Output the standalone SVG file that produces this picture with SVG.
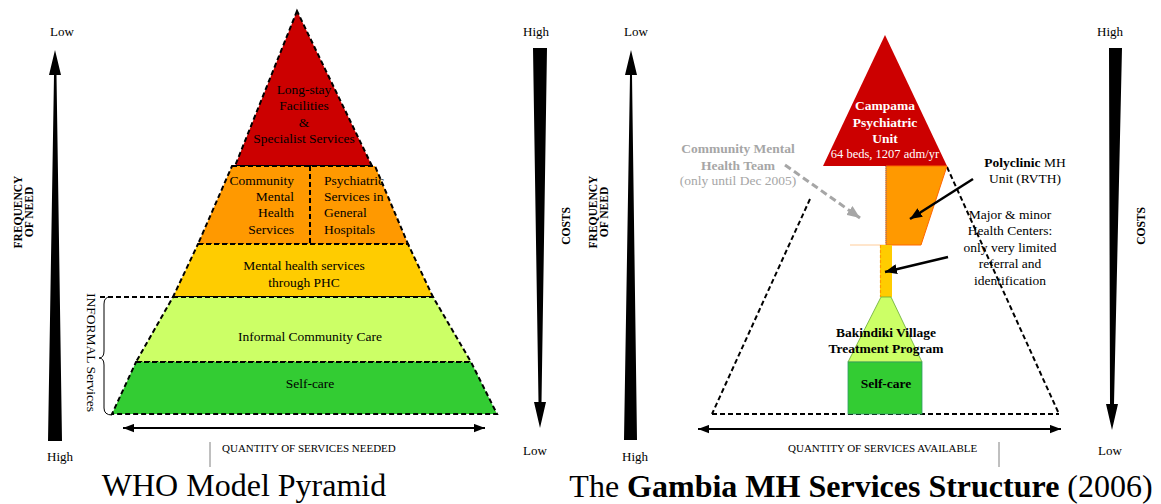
<svg xmlns="http://www.w3.org/2000/svg" width="1161" height="504" viewBox="0 0 1161 504">
<style>
text{font-family:"Liberation Serif","Times New Roman",serif;fill:#000}
.t{font-size:13.5px}
.c{text-anchor:middle}
.b{font-weight:bold}
.ax{font-size:13px}
.lab{font-size:11.5px;font-weight:bold}
.dash{stroke:#000;stroke-width:2;stroke-dasharray:5,3}
.nf{fill:none}
.gr{fill:#A6A6A6}
.w{fill:#fff}
</style>
<defs>
<marker id="ah" viewBox="0 0 12 10" refX="12" refY="5" markerWidth="12" markerHeight="10" markerUnits="userSpaceOnUse" orient="auto-start-reverse"><path d="M0,0 L12,5 L0,10 z" fill="#000"/></marker>
<marker id="ahs" viewBox="0 0 12 9" refX="12" refY="4.5" markerWidth="11" markerHeight="9" markerUnits="userSpaceOnUse" orient="auto-start-reverse"><path d="M0,0 L12,4.5 L0,9 z" fill="#000"/></marker>
<marker id="ahg" viewBox="0 0 12 10" refX="12" refY="5" markerWidth="13" markerHeight="11" markerUnits="userSpaceOnUse" orient="auto"><path d="M0,0 L12,5 L0,10 z" fill="#A6A6A6"/></marker>
</defs>

<!-- LEFT PANEL -->
<g id="who-longstay">
<polygon points="297,11 235,166 372,166" fill="#CC0000" class="dash"/>
<text class="t c" x="304" y="94">Long-stay</text>
<text class="t c" x="304" y="110">Facilities</text>
<text class="t c" x="304" y="127">&amp;</text>
<text class="t c" x="304" y="143">Specialist Services</text>
</g>
<g id="who-community">
<polygon points="232,166 375,166 408,244 198,244" fill="#FF9900" class="dash"/>
<line x1="310" y1="166" x2="310" y2="244" class="dash"/>
<text class="t" text-anchor="end" x="294" y="185">Community</text>
<text class="t" text-anchor="end" x="294" y="201">Mental</text>
<text class="t" text-anchor="end" x="294" y="217">Health</text>
<text class="t" text-anchor="end" x="294" y="234">Services</text>
<text class="t" x="324" y="185">Psychiatric</text>
<text class="t" x="324" y="201">Services in</text>
<text class="t" x="324" y="217">General</text>
<text class="t" x="324" y="234">Hospitals</text>
</g>
<g id="who-phc">
<polygon points="198,244 408,244 433,297 173,297" fill="#FFCC00" class="dash"/>
<text class="t c" x="304" y="270">Mental health services</text>
<text class="t c" x="304" y="287">through PHC</text>
</g>
<g id="who-informal">
<polygon points="173,297 433,297 471,362 136,362" fill="#CCFF66" class="dash"/>
<text class="t c" x="310" y="341">Informal Community Care</text>
</g>
<g id="who-selfcare">
<polygon points="136,362 471,362 497,414 112,414" fill="#33CC33" class="dash"/>
<text class="t c" x="310" y="388">Self-care</text>
</g>
<g id="who-informal-brace">
<line x1="100" y1="297" x2="173" y2="297" class="dash"/>
<path d="M110,297 Q104,297 104,304 L104,351 Q104,358 99,358 Q104,358 104,365 L104,408 Q104,415 112,415" fill="none" stroke="#000" stroke-width="1"/>
<text class="t" transform="translate(87,293) rotate(90)" font-size="14">INFORMAL Services</text>
</g>
<g id="who-freq-axis">
<polygon points="48,441 62,441 56.5,75 61,75 55,50 49,75 54,75" fill="#000"/>
<text class="ax c" x="62" y="36">Low</text>
<text class="ax c" x="60" y="461">High</text>
<text class="lab c" transform="translate(22,212) rotate(-90)">FREQUENCY</text>
<text class="lab c" transform="translate(33,212) rotate(-90)">OF NEED</text>
</g>
<g id="who-cost-axis">
<polygon points="533,48 547,48 541.5,402 546,402 540,428 534,402 538.5,402" fill="#000"/>
<text class="ax c" x="536" y="36">High</text>
<text class="ax c" x="535" y="455">Low</text>
<text class="lab c" transform="translate(570,226) rotate(-90)">COSTS</text>
</g>
<g id="who-quantity-axis">
<line x1="123" y1="428" x2="485" y2="428" stroke="#000" stroke-width="2" marker-start="url(#ahs)" marker-end="url(#ahs)"/>
<line x1="210" y1="442" x2="210" y2="467" stroke="#808080" stroke-width="1"/>
<text x="222" y="452" font-size="11">QUANTITY OF SERVICES NEEDED</text>
</g>
<g id="who-title">
<text x="244" y="496" font-size="32" text-anchor="middle">WHO Model Pyramid</text>
</g>

<!-- RIGHT PANEL -->
<g id="gambia-outline">
<line x1="810" y1="199" x2="712" y2="414" class="dash nf"/>
<line x1="947" y1="167" x2="1059" y2="414" class="dash nf"/>
<line x1="712" y1="414" x2="1059" y2="414" class="dash nf"/>
</g>
<g id="gambia-campama">
<polygon points="885,35 823,166 947,166" fill="#CC0000"/>
<text class="t c b" x="885" y="110" style="fill:#fff">Campama</text>
<text class="t c b" x="885" y="127" style="fill:#fff">Psychiatric</text>
<text class="t c b" x="885" y="143" style="fill:#fff">Unit</text>
<text class="c" x="885" y="158" font-size="12.5" style="fill:#fff">64 beds, 1207 adm/yr</text>
</g>
<g id="gambia-polyclinic">
<polygon points="886,166 947,166 921,245 886,245" fill="#FF9900" stroke="#FF6600" stroke-width="1"/>
<line x1="886" y1="166" x2="886" y2="245" stroke="#808080" stroke-width="1" stroke-dasharray="1,1"/>
<line x1="850" y1="245" x2="886" y2="245" stroke="#FFCC99" stroke-width="1"/>
</g>
<g id="gambia-healthcenters">
<rect x="880" y="245" width="12" height="52" fill="#FFCC00"/>
<line x1="880.5" y1="245" x2="880.5" y2="297" stroke="#FF9900" stroke-width="1.2" stroke-dasharray="3,2"/>
</g>
<g id="gambia-bakindiki">
<polygon points="881,297 891,297 922,362 848,362" fill="#CCFF66" stroke="#66AA33" stroke-width="0.8"/>
<text class="t c b" x="886" y="337">Bakindiki Village</text>
<text class="t c b" x="886" y="353">Treatment Program</text>
</g>
<g id="gambia-selfcare">
<rect x="848" y="362" width="74" height="52" fill="#33CC33" stroke="#339966" stroke-width="0.8"/>
<text class="t c b" x="886" y="388">Self-care</text>
</g>
<g id="gambia-cmht">
<text class="t c b" x="738" y="153" style="fill:#A6A6A6">Community Mental</text>
<text class="t c b" x="738" y="170" style="fill:#A6A6A6">Health Team</text>
<text class="t c" x="738" y="185" style="fill:#A6A6A6">(only until Dec 2005)</text>
</g>
<g id="gambia-polyclinic-label">
<text class="t c" x="1025" y="167"><tspan font-weight="bold">Polyclinic</tspan> MH</text>
<text class="t c" x="1025" y="183">Unit (RVTH)</text>
</g>
<g id="gambia-hc-label">
<text class="t c" x="1010" y="219">Major &amp; minor</text>
<text class="t c" x="1010" y="235">Health Centers:</text>
<text class="t c" x="1010" y="252">only very limited</text>
<text class="t c" x="1010" y="268">referral and</text>
<text class="t c" x="1010" y="285">identification</text>
</g>
<g id="connectors">
<line x1="785" y1="165" x2="860" y2="218" stroke="#A6A6A6" stroke-width="3" stroke-dasharray="7,4" marker-end="url(#ahg)"/>
<line x1="973" y1="179" x2="910" y2="219" stroke="#000" stroke-width="2.5" marker-end="url(#ah)"/>
<line x1="948" y1="257" x2="885" y2="272" stroke="#000" stroke-width="2.5" marker-end="url(#ah)"/>
</g>
<g id="gambia-freq-axis">
<polygon points="624,440 637,440 632,75 637,75 631,50 625,75 630,75" fill="#000"/>
<text class="ax c" x="636" y="36">Low</text>
<text class="ax c" x="635" y="461">High</text>
<text class="lab c" font-size="11" transform="translate(597,212) rotate(-90)">FREQUENCY</text>
<text class="lab c" font-size="11" transform="translate(608,212) rotate(-90)">OF NEED</text>
</g>
<g id="gambia-cost-axis">
<polygon points="1109,48 1122,48 1114,404 1118,404 1112,430 1106,404 1110,404" fill="#000"/>
<text class="ax c" x="1110" y="36">High</text>
<text class="ax c" x="1110" y="455">Low</text>
<text class="lab c" transform="translate(1145,226) rotate(-90)">COSTS</text>
</g>
<g id="gambia-quantity-axis">
<line x1="698" y1="429" x2="1061" y2="429" stroke="#000" stroke-width="2" marker-start="url(#ahs)" marker-end="url(#ahs)"/>
<line x1="999" y1="442" x2="999" y2="467" stroke="#808080" stroke-width="1"/>
<text x="788" y="452" font-size="11">QUANTITY OF SERVICES AVAILABLE</text>
</g>
<g id="gambia-title">
<text x="861" y="497" font-size="32" text-anchor="middle">The <tspan font-weight="bold">Gambia MH Services Structure</tspan> (2006)</text>
</g>
</svg>
